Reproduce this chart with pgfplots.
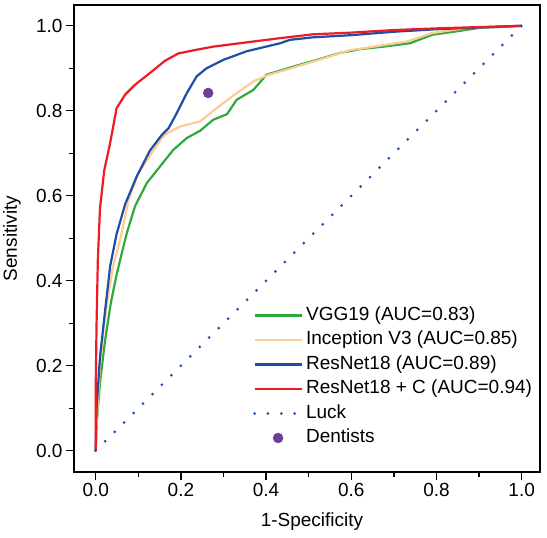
\documentclass[border=0pt]{standalone}
\usepackage{pgfplots}
\pgfplotsset{compat=1.18}
\usepackage{fontspec}
\setmainfont{Liberation Sans}
\definecolor{cred}{RGB}{236,28,36}
\definecolor{cgreen}{RGB}{46,170,60}
\definecolor{corange}{RGB}{252,204,150}
\definecolor{cblue}{RGB}{30,78,166}
\definecolor{cluck}{RGB}{30,78,180}
\definecolor{cpurple}{RGB}{112,62,152}
\begin{document}
\begin{tikzpicture}
\begin{axis}[
  scale only axis, width=466pt, height=467pt,
  xmin=-0.051, xmax=1.043, ymin=-0.05, ymax=1.049,
  xtick={0,0.2,0.4,0.6,0.8,1.0}, ytick={0,0.2,0.4,0.6,0.8,1.0},
  minor tick num=1,
  tick align=outside, xtick pos=left, ytick pos=left,
  major tick length=8pt, minor tick length=5pt,
  every tick/.style={black, line width=1.3pt},
  axis line style={line width=1.6pt},
  tick label style={font=\fontsize{19}{22}\selectfont},
  xticklabel style={/pgf/number format/.cd, fixed, fixed zerofill, precision=1, assume math mode=true},
  yticklabel style={/pgf/number format/.cd, fixed, fixed zerofill, precision=1, assume math mode=true},
  label style={font=\fontsize{19}{22}\selectfont},
  xlabel={1-Specificity}, ylabel={Sensitivity},
  xlabel style={at={(axis description cs:0.5,0)}, anchor=center, yshift=-50pt, xshift=5pt},
  ylabel style={at={(axis description cs:0,0.5)}, anchor=center, yshift=62pt},
  legend style={draw=none, fill=none, at={(axis cs:0.369,0.340)}, anchor=north west,
    inner sep=0pt, row sep=6.5pt, column sep=3pt,
    font=\fontsize{19}{22}\selectfont,
    nodes={inner sep=0pt, text height=14pt, text depth=4pt}},
  legend cell align=left,
  legend image code/.code={\draw[#1] (0pt,0pt) -- (47pt,0pt);},
]
\addplot[cgreen, line width=2.2pt] coordinates {
(0,0) (0.002,0.06) (0.01,0.16) (0.022,0.26) (0.035,0.345) (0.048,0.41) (0.06,0.46) (0.073,0.512) (0.092,0.575) (0.12,0.63) (0.151,0.669) (0.182,0.708) (0.214,0.736) (0.245,0.753) (0.276,0.779) (0.308,0.792) (0.331,0.826) (0.37,0.849) (0.401,0.885) (0.464,0.904) (0.519,0.92) (0.573,0.936) (0.62,0.945) (0.675,0.951) (0.738,0.959) (0.79,0.979) (0.847,0.987) (0.9,0.995) (1,1)};
\addlegendentry{VGG19 (AUC=0.83)}
\addplot[corange, line width=2.2pt] coordinates {
(0,0) (0.003,0.08) (0.01,0.2) (0.02,0.3) (0.03,0.37) (0.041,0.435) (0.049,0.465) (0.061,0.512) (0.077,0.59) (0.1,0.653) (0.131,0.70) (0.155,0.735) (0.167,0.747) (0.198,0.763) (0.245,0.775) (0.276,0.800) (0.323,0.836) (0.37,0.869) (0.401,0.883) (0.472,0.904) (0.55,0.928) (0.597,0.943) (0.62,0.946) (0.73,0.963) (0.79,0.983) (0.871,0.995) (1,1)};
\addlegendentry{Inception V3 (AUC=0.85)}
\addplot[cblue, line width=2.2pt] coordinates {
(0,0) (0.002,0.1) (0.01,0.22) (0.022,0.33) (0.034,0.435) (0.049,0.51) (0.069,0.58) (0.096,0.645) (0.127,0.706) (0.155,0.743) (0.171,0.759) (0.19,0.794) (0.214,0.842) (0.237,0.881) (0.26,0.90) (0.30,0.92) (0.354,0.94) (0.433,0.959) (0.456,0.967) (0.511,0.973) (0.6,0.978) (0.7,0.986) (0.8,0.992) (0.9,0.996) (1,1)};
\addlegendentry{ResNet18 (AUC=0.89)}
\addplot[cred, line width=2.2pt] coordinates {
(0,0) (0,0.15) (0.002,0.3) (0.005,0.45) (0.01,0.57) (0.02,0.66) (0.033,0.72) (0.049,0.806) (0.069,0.838) (0.092,0.861) (0.131,0.892) (0.163,0.918) (0.194,0.935) (0.233,0.943) (0.276,0.951) (0.354,0.961) (0.433,0.971) (0.51,0.98) (0.6,0.984) (0.7,0.99) (0.8,0.994) (0.9,0.997) (1,1)};
\addlegendentry{ResNet18 + C (AUC=0.94)}
\addplot[cluck, line width=3pt, line cap=round, dash pattern=on 0pt off 13.36pt] coordinates {(0,0) (1,1)};
\addlegendentry{Luck}
\addplot[only marks, mark=*, mark size=5pt, cpurple, mark options={draw=cpurple, fill=cpurple},
  legend image code/.code={\fill[cpurple] (23.5pt,0pt) circle (5pt);}] coordinates {(0.264,0.842)};
\addlegendentry{Dentists}
\end{axis}
\pgfresetboundingbox
\path (-74pt,-66pt) rectangle (473pt,472pt);
\end{tikzpicture}
\end{document}
